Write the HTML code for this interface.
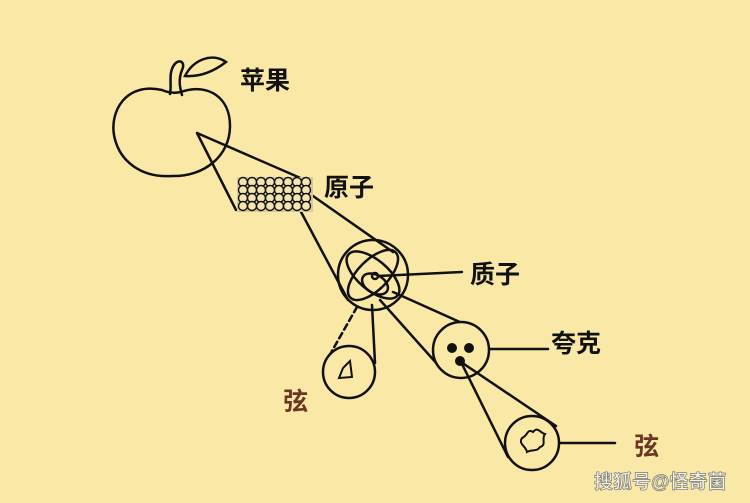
<!DOCTYPE html>
<html><head><meta charset="utf-8"><style>
html,body{margin:0;padding:0;background:#fae9a6;}
svg{display:block}
text{font-family:"Liberation Sans","Noto Sans CJK SC",sans-serif;font-weight:bold}
</style></head><body>
<svg width="750" height="503" viewBox="0 0 750 503" xmlns="http://www.w3.org/2000/svg">
<rect width="750" height="503" fill="#fae9a6"/>
<g fill="none" stroke="#111" stroke-width="2.5" stroke-linecap="round">
<!-- apple -->
<path d="M162 90 C125 82 110 112 114 135 C119 162 142 178 172 176 C204 177 230 156 230 126 C230 97 208 84 184 91 C176 94 169 93 162 90 Z"/>
<path d="M170 94 C172 84 168 74 174 65 C179 58 186 62 182 70 C178 80 180 88 182 95"/>
<path d="M185 76 C193 60 212 52 226 62 C213 72 199 77 185 76 Z"/>
<path d="M197 133 L236 210 M197 133 L305 180"/>
<path d="M300 210 L348 300 M313 196 L393 252"/>
<circle cx="373" cy="275" r="35"/>
<ellipse cx="373" cy="275" rx="32" ry="15" transform="rotate(40 373 275)"/>
<ellipse cx="373" cy="275" rx="32" ry="15" transform="rotate(-45 373 275)"/>
<ellipse cx="375" cy="284" rx="14" ry="9" transform="rotate(30 375 284)"/>
<circle cx="375" cy="276" r="3"/>
<path d="M378 276 L462 272"/>
<path d="M393 292 L462 323 M380 300 L438 365"/>
<path d="M357 307 L328 358" stroke-dasharray="6 4"/>
<path d="M372 305 L375 363"/>
<circle cx="349" cy="372" r="26" fill="#fae9a6"/>
<path d="M343 368 L350 361 L352 377 L339 378 Z" stroke-width="2"/>
<circle cx="461" cy="350" r="28" fill="#fae9a6"/>
<path d="M489 349 L548 349"/>
<path d="M461 362 L508 457 M461 362 L556 426"/>
<circle cx="532" cy="443" r="27" fill="#fae9a6"/>
<path d="M522 438 C528 436 527 428 533 432 C538 426 540 433 545 434 C541 439 547 445 540 447 C537 452 532 449 527 452 C526 446 518 444 522 438 Z" stroke-width="2"/>
<path d="M560 443 L615 443"/>
</g>
<g fill="#111">
<circle cx="452" cy="348" r="5"/><circle cx="469" cy="348" r="5"/><circle cx="460" cy="361" r="5"/>
</g>
<rect x="237" y="177" width="76" height="35" fill="#d8c894"/>
<g fill="#f3e4b0" stroke="#111" stroke-width="1.4">
<circle cx="243" cy="182" r="4.5"/><circle cx="252" cy="182" r="4.5"/><circle cx="261" cy="182" r="4.5"/><circle cx="270" cy="182" r="4.5"/><circle cx="279" cy="182" r="4.5"/><circle cx="288" cy="182" r="4.5"/><circle cx="297" cy="182" r="4.5"/><circle cx="306" cy="182" r="4.5"/>
<circle cx="243" cy="190" r="4.5"/><circle cx="252" cy="190" r="4.5"/><circle cx="261" cy="190" r="4.5"/><circle cx="270" cy="190" r="4.5"/><circle cx="279" cy="190" r="4.5"/><circle cx="288" cy="190" r="4.5"/><circle cx="297" cy="190" r="4.5"/><circle cx="306" cy="190" r="4.5"/>
<circle cx="243" cy="198" r="4.5"/><circle cx="252" cy="198" r="4.5"/><circle cx="261" cy="198" r="4.5"/><circle cx="270" cy="198" r="4.5"/><circle cx="279" cy="198" r="4.5"/><circle cx="288" cy="198" r="4.5"/><circle cx="297" cy="198" r="4.5"/><circle cx="306" cy="198" r="4.5"/>
<circle cx="243" cy="206" r="4.5"/><circle cx="252" cy="206" r="4.5"/><circle cx="261" cy="206" r="4.5"/><circle cx="270" cy="206" r="4.5"/><circle cx="279" cy="206" r="4.5"/><circle cx="288" cy="206" r="4.5"/><circle cx="297" cy="206" r="4.5"/><circle cx="306" cy="206" r="4.5"/>
</g>
<g font-size="25" fill="#111">
<text x="240" y="89">苹果</text>
<text x="324" y="196">原子</text>
<text x="470" y="283">质子</text>
<text x="551" y="352">夸克</text>
</g>
<text x="283" y="410" font-size="25" fill="#6b3626">弦</text>
<text x="634" y="455" font-size="25" fill="#6b3626">弦</text>
<text x="594" y="488" font-size="19" fill="#f4f1ea" stroke="#7a7a70" stroke-width="0.7">搜狐号@怪奇菌</text>
</svg>
</body></html>
